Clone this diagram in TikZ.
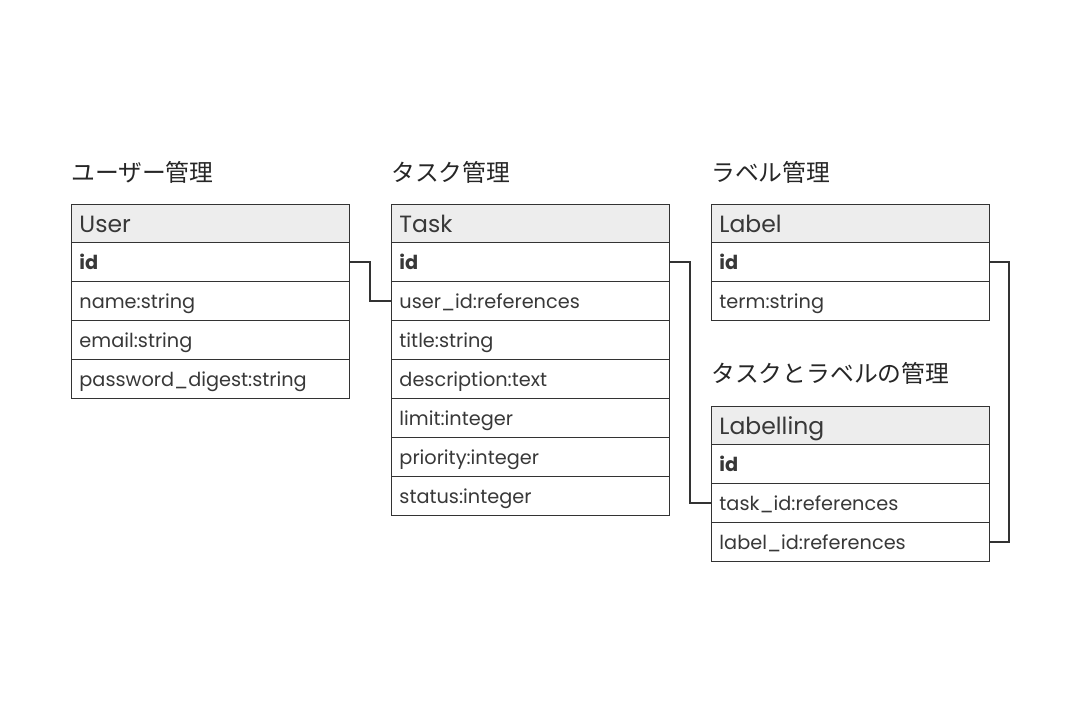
\documentclass[tikz,border=0pt]{standalone}
\usepackage{fontspec}
\setmainfont{Poppins}
\newfontfamily\jp{Noto Sans CJK JP}
\begin{document}
\begin{tikzpicture}[x=1pt,y=-1pt,
  cell/.style={draw=black!80, line width=0.9pt, anchor=north west, minimum width=278pt,
    minimum height=39pt, text width=262pt, align=left, inner xsep=8pt, inner ysep=0pt,
    text height=15.5pt, text depth=1pt,
    font=\fontsize{19.3}{22}\selectfont, text=black!78},
  head/.style={cell, fill=black!7, minimum height=38pt, text height=19pt, text depth=1pt, font=\fontsize{23.5}{28}\selectfont},
  idcell/.style={cell, font=\fontsize{19.3}{22}\selectfont\bfseries},
  ttl/.style={anchor=west, inner sep=0pt, font=\jp\fontsize{23.8}{26}\selectfont, text=black!85},
  conn/.style={draw=black!80, line width=2pt}]
\useasboundingbox (0,0) rectangle (1080,720);
\fill[white] (0,0) rectangle (1080,720);
% titles
\node[ttl] (tu) at (71,172) {ユーザー管理};
\node[ttl] (tt) at (391,172) {タスク管理};
\node[ttl] (tl) at (711,172) {ラベル管理};
\node[ttl] (tlb) at (711,373) {タスクとラベルの管理};
% User
\node[head] (u0) at (71,204) {User};
\node[idcell] (u1) at (71,242) {id};
\node[cell] (u2) at (71,281) {name:string};
\node[cell] (u3) at (71,320) {email:string};
\node[cell] (u4) at (71,359) {password\_digest:string};
% Task
\node[head] (t0) at (391,204) {Task};
\node[idcell] (t1) at (391,242) {id};
\node[cell] (t2) at (391,281) {user\_id:references};
\node[cell] (t3) at (391,320) {title:string};
\node[cell] (t4) at (391,359) {description:text};
\node[cell] (t5) at (391,398) {limit:integer};
\node[cell] (t6) at (391,437) {priority:integer};
\node[cell] (t7) at (391,476) {status:integer};
% Label
\node[head] (l0) at (711,204) {Label};
\node[idcell] (l1) at (711,242) {id};
\node[cell] (l2) at (711,281) {term:string};
% Labelling
\node[head] (b0) at (711,406) {Labelling};
\node[idcell] (b1) at (711,444) {id};
\node[cell] (b2) at (711,483) {task\_id:references};
\node[cell] (b3) at (711,522) {label\_id:references};
% connectors
\draw[conn] (u1.east) -- ++(20,0) |- (t2.west);
\draw[conn] (t1.east) -- ++(20,0) |- (b2.west);
\draw[conn] (l1.east) -- ++(19,0) |- (b3.east);
\end{tikzpicture}
\end{document}
